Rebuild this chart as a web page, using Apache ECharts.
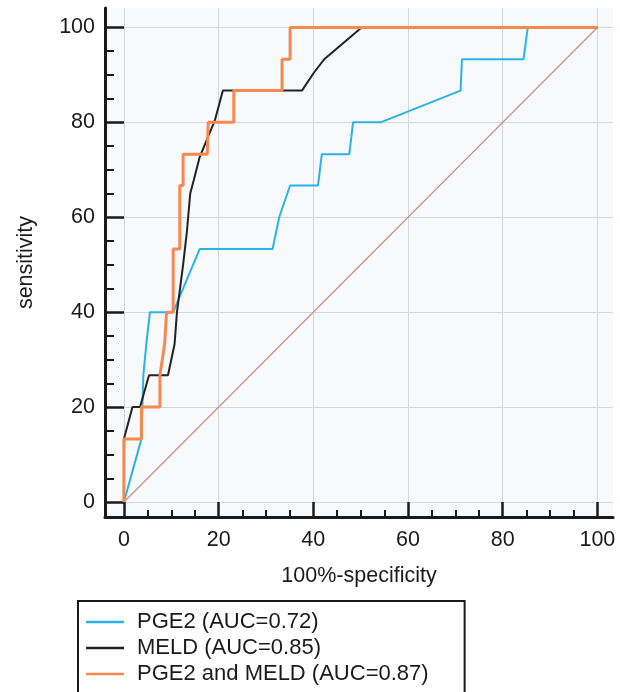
<!DOCTYPE html>
<html>
<head>
<meta charset="utf-8">
<script src="https://cdn.jsdelivr.net/npm/echarts@6/dist/echarts.min.js"></script>
<style>
html,body{margin:0;padding:0;background:#fff;}
#chart{width:620px;height:692px;}
</style>
</head>
<body>
<div id="chart"></div>
<script>
// ---- data ----
const seriesNames = ['PGE2 (AUC=0.72)', 'MELD (AUC=0.85)', 'PGE2 and MELD (AUC=0.87)'];
const pge2 = [[0,0],[3.7,13.3],[4.1,26.7],[4.8,34],[5.5,40],[10.4,40],[16,53.3],[31.4,53.3],[32.8,60],[35.1,66.7],[41,66.7],[41.8,73.3],[47.6,73.3],[48.4,80],[54.2,80],[71.1,86.7],[71.4,93.3],[84.4,93.3],[85.3,100],[100,100]];
const meld = [[0,0],[0,13.3],[1.8,20],[3.4,20],[5.3,26.7],[9.3,26.7],[10.7,33.3],[11.2,40],[12.5,50],[13.3,57],[14,65],[14.8,68],[16,72.7],[19.2,80.4],[20.9,86.7],[37.6,86.7],[40,90.3],[42.3,93.3],[50.2,100],[100,100]];
const combined = [[0,0],[0,13.3],[3.7,13.3],[3.7,20],[7.6,20],[7.6,26.7],[8.6,33.3],[9,40],[10.4,40],[10.4,53.3],[11.8,53.3],[11.8,66.7],[12.5,66.7],[12.5,73.3],[17.6,73.3],[17.8,80],[23.2,80],[23.2,86.7],[33.4,86.7],[33.4,93.3],[35.1,93.3],[35.1,100],[100,100]];
const diagonal = [[0,0],[100,100]];
const majorTicks = [0,20,40,60,80,100];
const minorTicks = [5,10,15,25,30,35,45,50,55,65,70,75,85,90,95];
const xTitle = '100%-specificity';
const yTitle = 'sensitivity';

// ---- layout / style ----
const FONT = "'Liberation Sans', Arial, Helvetica, sans-serif";
const INK = '#1a1a1a';
const X_RANGE = [-4.0, 103.3];
const Y_RANGE = [-3.16, 104.1];

const chart = echarts.init(document.getElementById('chart'), null, {renderer:'canvas'});

function baseAxis(range){
  return {type:'value', min:range[0], max:range[1], gridIndex:0};
}

const option = {
  animation:false,
  backgroundColor:'#ffffff',
  textStyle:{fontFamily:FONT},
  grid:{
    left:105, top:8, right:7, bottom:175,
    show:true, backgroundColor:'#f8f9fb', borderWidth:0,
    outerBoundsMode:'none', containLabel:false
  },
  xAxis:[
    Object.assign(baseAxis(X_RANGE), {
      position:'bottom',
      axisLine:{show:true, onZero:false, lineStyle:{color:INK, width:3}},
      axisTick:{show:true, inside:true, length:15, customValues:majorTicks, lineStyle:{color:INK, width:2.5}},
      axisLabel:{show:true, customValues:majorTicks, margin:12, fontSize:21.5, color:INK, fontFamily:FONT},
      splitLine:{show:true, lineStyle:{color:'#d3d7db', width:1}},
      minorTick:{show:false},
      name:xTitle, nameLocation:'middle', nameGap:48,
      nameTextStyle:{fontSize:21.5, color:INK, fontFamily:FONT}
    }),
    Object.assign(baseAxis(X_RANGE), {
      position:'bottom',
      axisLine:{show:false, onZero:false},
      axisTick:{show:true, inside:true, length:7, customValues:minorTicks, lineStyle:{color:INK, width:2}},
      axisLabel:{show:false},
      splitLine:{show:false}
    })
  ],
  yAxis:[
    Object.assign(baseAxis(Y_RANGE), {
      position:'left',
      axisLine:{show:true, onZero:false, lineStyle:{color:INK, width:3}},
      axisTick:{show:true, inside:true, length:19, customValues:majorTicks, lineStyle:{color:INK, width:2.5}},
      axisLabel:{show:true, customValues:majorTicks, margin:10, fontSize:21.5, color:INK, fontFamily:FONT},
      splitLine:{show:true, lineStyle:{color:'#d3d7db', width:1}},
      name:yTitle, nameLocation:'middle', nameGap:68, nameRotate:90,
      nameTextStyle:{fontSize:21.5, color:INK, fontFamily:FONT}
    }),
    Object.assign(baseAxis(Y_RANGE), {
      position:'left',
      axisLine:{show:false, onZero:false},
      axisTick:{show:true, inside:true, length:9, customValues:minorTicks, lineStyle:{color:INK, width:2}},
      axisLabel:{show:false},
      splitLine:{show:false}
    })
  ],
  legend:{
    orient:'vertical', left:78, top:601, height:140,
    padding:[10,36,20,8],
    borderColor:INK, borderWidth:2, backgroundColor:'#ffffff',
    itemGap:4, itemWidth:38, itemHeight:2.5,
    selectedMode:false,
    textStyle:{fontSize:22, lineHeight:21.5, color:INK, fontFamily:FONT, padding:[0,0,0,8]},
    data:seriesNames.map(n => ({name:n, icon:'rect'}))
  },
  series:[
    {type:'line', name:'diag', data:diagonal, xAxisIndex:0, yAxisIndex:0, symbol:'none', silent:true,
     lineStyle:{color:'#c99585', width:1.3}, z:1},
    {type:'line', name:seriesNames[0], data:pge2, xAxisIndex:0, yAxisIndex:0, symbol:'none',
     color:'#2ab3e8', lineStyle:{color:'#2ab3e8', width:2}, z:2},
    {type:'line', name:seriesNames[1], data:meld, xAxisIndex:0, yAxisIndex:0, symbol:'none',
     color:'#222222', lineStyle:{color:'#222222', width:2}, z:3},
    {type:'line', name:seriesNames[2], data:combined, xAxisIndex:0, yAxisIndex:0, symbol:'none',
     color:'#f5894f', lineStyle:{color:'#f5894f', width:3}, z:4}
  ]
};
chart.setOption(option);
</script>
</body>
</html>
